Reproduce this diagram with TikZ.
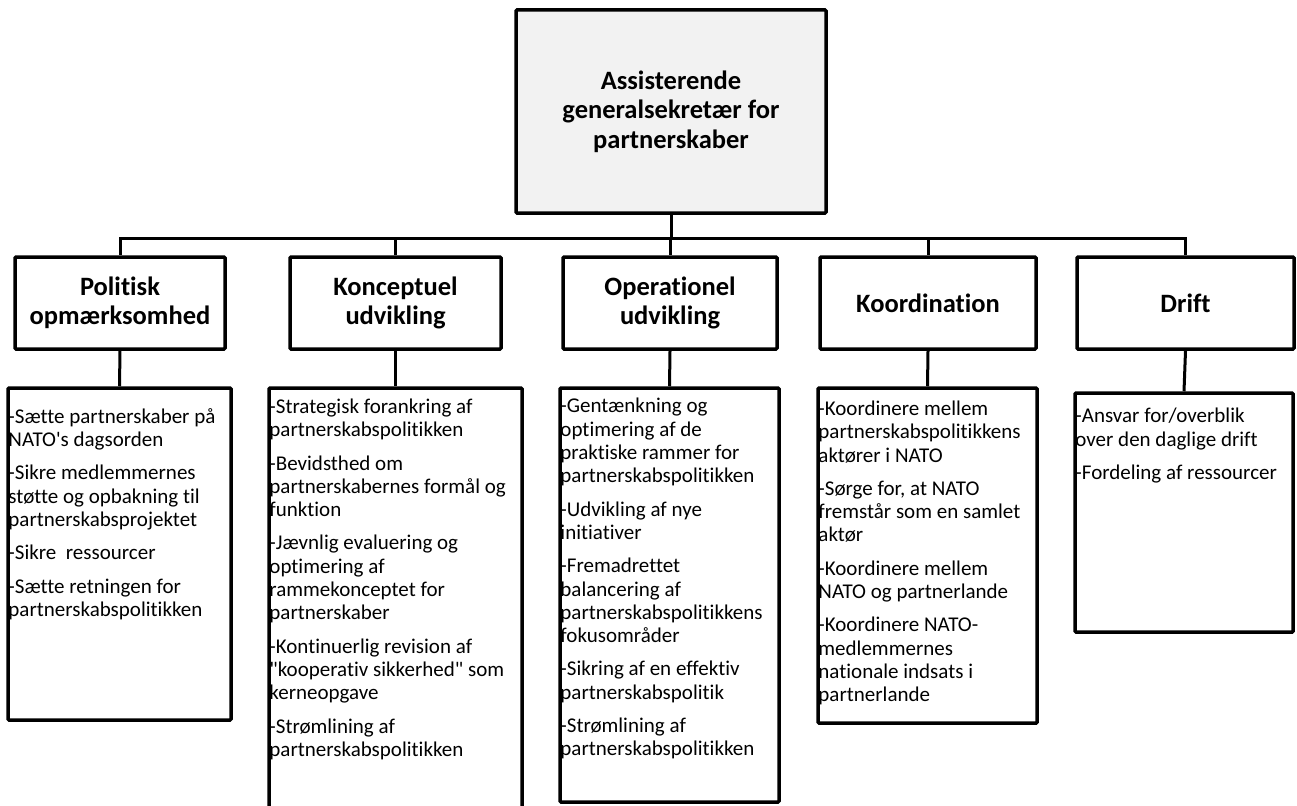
\documentclass[tikz,border=0pt]{standalone}
\usepackage{fontspec}
\setmainfont{Carlito}[Ligatures={NoCommon}]
\begin{document}
\begin{tikzpicture}[x=1pt,y=1pt]
			\tikzstyle{every node}+=[inner sep=0pt]
			\tikzstyle{headbox}=[draw=black, line width=3.5pt, rounded corners=1pt, align=center, font=\fontsize{26.5}{29.5}\selectfont\bfseries]
			\tikzstyle{listbox}=[draw=black, line width=3.5pt, rounded corners=1pt]
			\tikzstyle{listtext}=[anchor=north west, align=left, font=\fontsize{21}{23.3}\selectfont, execute at begin node=\strut]
			\tikzstyle{link}=[black, line width=3pt]
			\useasboundingbox (0,0) rectangle (1297,-805);
			% top
			\node [headbox, fill={rgb,255:red,242;green,242;blue,242}, minimum width=310, minimum height=203] (asg) at (671,-111.5) {Assisterende\\generalsekretær for\\partnerskaber};
			% second row
			\node [headbox, minimum width=210, minimum height=92] (pol) at (120,-303) {Politisk\\opmærksomhed};
			\node [headbox, minimum width=211, minimum height=92] (kon) at (395.5,-303) {Konceptuel\\udvikling};
			\node [headbox, minimum width=214, minimum height=92] (ope) at (670,-303) {Operationel\\udvikling};
			\node [headbox, minimum width=216, minimum height=92] (koo) at (928,-303) {Koordination};
			\node [headbox, minimum width=217, minimum height=92] (dri) at (1185.5,-303) {Drift};
			% lists
			\node [listbox, minimum width=223, minimum height=332] (pol-list) at (119.5,-554) {};
			\node [listbox, minimum width=253, minimum height=420] (kon-list) at (395.5,-598) {};
			\node [listbox, minimum width=219, minimum height=414] (ope-list) at (669.5,-595) {};
			\node [listbox, minimum width=219, minimum height=335] (koo-list) at (927.5,-555.5) {};
			\node [listbox, minimum width=218, minimum height=239] (dri-list) at (1184,-512.5) {};
			\node [listtext] (pol-txt) at ([xshift=2pt]pol-list.north west |- 0,-408.2) {-Sætte partnerskaber på\\NATO\textquotesingle s dagsorden\\[10pt]-Sikre medlemmernes\\støtte og opbakning til\\partnerskabsprojektet\\[10pt]-Sikre\ \ ressourcer\\[10pt]-Sætte retningen for\\partnerskabspolitikken};
			\node [listtext] (kon-txt) at ([xshift=2pt]kon-list.north west |- 0,-398.7) {-Strategisk forankring af\\partnerskabspolitikken\\[10pt]-Bevidsthed om\\partnerskabernes formål og\\funktion\\[10pt]-Jævnlig evaluering og\\optimering af\\rammekonceptet for\\partnerskaber\\[10pt]-Kontinuerlig revision af\\\textquotedbl kooperativ sikkerhed\textquotedbl{} som\\kerneopgave\\[10pt]-Strømlining af\\partnerskabspolitikken};
			\node [listtext] (ope-txt) at ([xshift=2pt]ope-list.north west |- 0,-398.2) {-Gentænkning og\\optimering af de\\praktiske rammer for\\partnerskabspolitikken\\[10pt]-Udvikling af nye\\initiativer\\[10pt]-Fremadrettet\\balancering af\\partnerskabspolitikkens\\fokusområder\\[10pt]-Sikring af en effektiv\\partnerskabspolitik\\[10pt]-Strømlining af\\partnerskabspolitikken};
			\node [listtext] (koo-txt) at ([xshift=2pt]koo-list.north west |- 0,-400.7) {-Koordinere mellem\\partnerskabspolitikkens\\aktører i NATO\\[10pt]-Sørge for, at NATO\\fremstår som en samlet\\aktør\\[10pt]-Koordinere mellem\\NATO og partnerlande\\[10pt]-Koordinere NATO-\\medlemmernes\\nationale indsats i\\partnerlande};
			\node [listtext] (dri-txt) at ([xshift=2pt]dri-list.north west |- 0,-408.2) {-Ansvar for/overblik\\over den daglige drift\\[10pt]-Fordeling af ressourcer};
			% connectors
			\foreach \b in {pol,kon,ope,koo,dri} {
				\draw [link] (asg.south) -- ++(0,-24) -| (\b.north);
				\draw [link] (\b.south) -- (\b-list.north);
			}
		\end{tikzpicture}
\end{document}
